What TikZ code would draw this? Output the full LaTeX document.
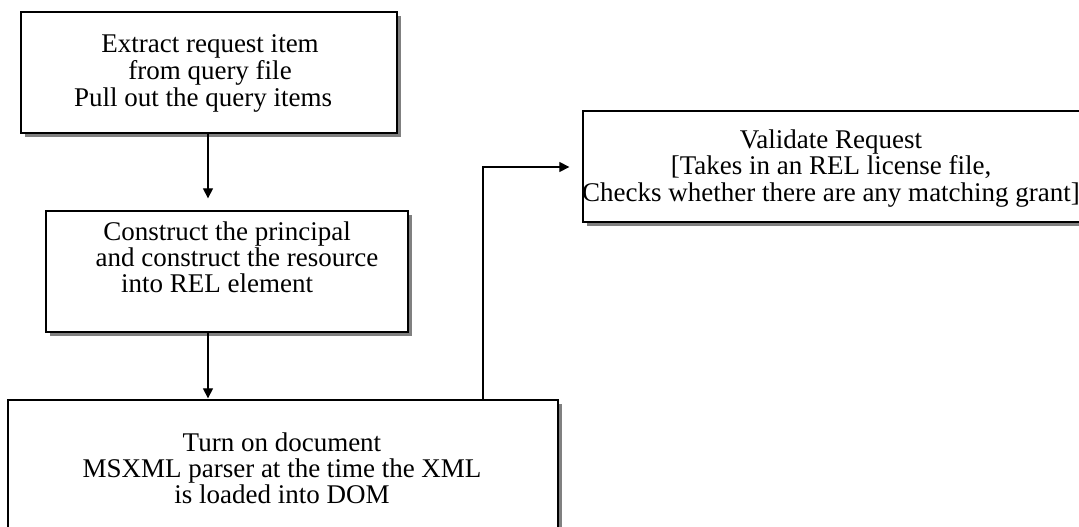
\documentclass[tikz,border=0pt]{standalone}
\usepackage{fontspec}
\setmainfont{Liberation Serif}
\usetikzlibrary{arrows.meta,shadows}
% three-line captions: baseline of the node is the first line's baseline
\newcommand\lines[1]{\begin{tabular}[t]{@{}c@{}}#1\end{tabular}}
\begin{document}
\begin{tikzpicture}[x=1pt,y=-1pt,
  stepbox/.style={draw=black,line width=1.3pt,fill=white,rectangle,
    drop shadow={shadow xshift=4pt,shadow yshift=-4pt,fill=black!50,opacity=1},
    inner sep=0pt},
  boxtext/.style={font=\fontsize{27}{25.5}\selectfont,anchor=base,inner sep=0pt},
  arr/.style={line width=1.2pt,-{Triangle[length=10pt,width=10pt]}}]
\useasboundingbox (0,0) rectangle (1079,527);
\clip (0,0) rectangle (1079,527);

% process boxes
\node[stepbox,minimum width=376pt,minimum height=121pt] (b1) at (209,72.5) {};
\node[stepbox,minimum width=362pt,minimum height=121pt] (b2) at (227,271.5) {};
\node[stepbox,minimum width=550pt,minimum height=150pt] (b3) at (283,475) {};
\node[stepbox,minimum width=504pt,minimum height=111pt] (b4) at (835,166.5) {};

% box texts
\node[boxtext] (t1) at (210,53) {\lines{Extract request item\\from query file\\Pull out the query items\hspace*{14pt}}};
\node[boxtext] (t2) at (227,240) {\lines{Construct the principal\\\hspace*{20pt}and construct the resource\\into REL element\hspace*{20pt}}};
\node[boxtext] (t3) at (282,451) {\lines{Turn on document\\MSXML parser at the time the XML\\is loaded into DOM}};
\node[boxtext] (t4) at (831,148) {\lines{Validate Request\\{[}Takes in an REL license file,\\Checks whether there are any matching grant{]}}};

% connectors
\coordinate (ax) at (208,0);
\coordinate (elbow) at (483,167);
\draw[arr,shorten >=12pt] (ax |- b1.south) -- (ax |- b2.north);
\draw[arr,shorten >=1pt] (ax |- b2.south) -- (ax |- b3.north);
\draw[arr,shorten >=13pt] (elbow |- b3.north) -- (elbow) -- (b4.west |- elbow);
\end{tikzpicture}
\end{document}
